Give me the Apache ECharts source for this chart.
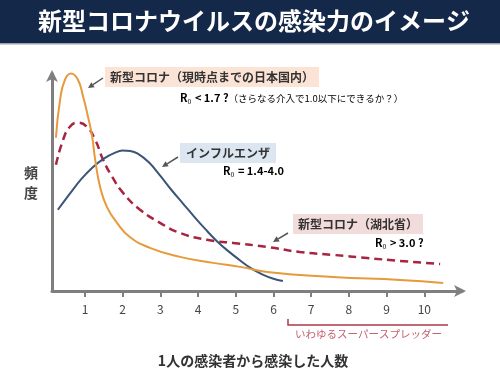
<!DOCTYPE html>
<html>
<head>
<meta charset="utf-8">
<script src="https://cdn.jsdelivr.net/npm/echarts@6/dist/echarts.min.js"></script>
<style>
  html, body { margin: 0; padding: 0; background: #fff; }
  #main { width: 500px; height: 378px; }
</style>
</head>
<body>
<div id="main"></div>
<script>
// 1人の感染者から感染した人数 (x) と 頻度 (y)
var xTicks = [1, 2, 3, 4, 5, 6, 7, 8, 9, 10]

var coronaJapan = [
  [0.23, 69.2], [0.34, 86.4], [0.47, 95.5], [0.63, 98.2], [0.81, 95.5],
  [0.95, 87.8], [1.08, 78.7], [1.19, 69.7], [1.27, 59.3], [1.40, 47.1],
  [1.58, 38.0], [1.85, 30.8], [2.19, 24.4], [2.72, 19.5], [3.52, 15.4],
  [4.40, 12.7], [5.11, 10.9], [5.83, 8.6], [7.58, 6.3], [9.36, 5.0], [10.5, 3.6]
]
var coronaHubei = [
  [0.23, 57.0], [0.42, 68.3], [0.60, 74.2], [0.81, 76.0], [1.05, 74.2],
  [1.27, 68.3], [1.48, 59.3], [1.72, 51.6], [2.01, 44.3], [2.46, 36.7],
  [2.99, 30.8], [3.52, 26.2], [4.24, 23.1], [4.93, 21.7], [5.83, 19.9],
  [6.70, 17.6], [7.58, 16.3], [8.48, 14.9], [9.36, 13.6], [10.42, 12.2]
]
var influenza = [
  [0.28, 36.7], [0.6, 44.0], [0.9, 50.5], [1.2, 55.8], [1.5, 59.8],
  [1.8, 62.5], [2.0, 63.4], [2.2, 63.2], [2.4, 62.0], [2.7, 58.0],
  [3.0, 52.0], [3.3, 45.5], [3.6, 39.5], [3.9, 33.5], [4.2, 27.8],
  [4.5, 22.5], [4.8, 18.0], [5.1, 14.0], [5.4, 10.3], [5.7, 7.5],
  [6.0, 5.5], [6.25, 4.5]
]

var font = '"Noto Sans CJK JP", "Noto Sans", sans-serif'

// 矢印（線＋三角）
function arrow(x1, y1, x2, y2) {
  var dx = x2 - x1, dy = y2 - y1
  var len = Math.sqrt(dx * dx + dy * dy)
  var ux = dx / len, uy = dy / len
  var bx = x2 - ux * 6, by = y2 - uy * 6
  return {
    type: 'group',
    children: [
      { type: 'line', shape: { x1: x1, y1: y1, x2: bx, y2: by }, style: { stroke: '#555', lineWidth: 1.5 } },
      { type: 'polygon', shape: { points: [[x2, y2], [bx - uy * 3, by + ux * 3], [bx + uy * 3, by - ux * 3]] }, style: { fill: '#555' } }
    ]
  }
}

function r0(x, y, rest, extra) {
  var rich = {
    r: { fontSize: 11, fontWeight: 'bold', color: '#444', fontFamily: font },
    s0: { fontSize: 7, color: '#444', fontFamily: font, padding: [6, 1, 0, 0] },
    b: { fontSize: 11, fontWeight: 'bold', color: '#444', fontFamily: font },
    g: { fontSize: 9.5, color: '#777', fontFamily: font }
  }
  var t = '{r|R}{s0|0}{b|' + rest + '}'
  if (extra) t += '{g|' + extra + '}'
  return { type: 'text', x: x, y: y, style: { text: t, rich: rich, verticalAlign: 'middle' } }
}

var chart = echarts.init(document.getElementById('main'))

chart.setOption({
  animation: false,
  backgroundColor: '#fff',
  grid: { left: 52, right: 38, top: 74, bottom: 87 },
  xAxis: {
    type: 'value',
    min: 0.125,
    max: 11,
    splitLine: { show: false },
    axisLine: {
      lineStyle: { color: '#7f7f7f', width: 3 },
      symbol: ['none', 'arrow'],
      symbolSize: [9, 12],
      symbolOffset: [0, 4]
    },
    axisTick: { customValues: xTicks, length: 6, lineStyle: { color: '#7f7f7f', width: 2 } },
    axisLabel: { customValues: xTicks, margin: 12, color: '#444', fontSize: 12, fontFamily: font }
  },
  yAxis: {
    type: 'value',
    min: 0,
    max: 98,
    splitLine: { show: false },
    axisTick: { show: false },
    axisLabel: { show: false },
    axisLine: {
      show: true,
      lineStyle: { color: '#7f7f7f', width: 3 },
      symbol: ['none', 'arrow'],
      symbolSize: [9, 12],
      symbolOffset: [0, 4]
    }
  },
  series: [
    {
      name: '新型コロナ（湖北省）',
      type: 'line',
      data: coronaHubei,
      smooth: true,
      showSymbol: false,
      clip: false,
      lineStyle: { color: '#a8243f', width: 2.5, type: [8, 5] }
    },
    {
      name: 'インフルエンザ',
      type: 'line',
      data: influenza,
      smooth: 0.4,
      showSymbol: false,
      clip: false,
      lineStyle: { color: '#3b5577', width: 2 }
    },
    {
      name: '新型コロナ（現時点までの日本国内）',
      type: 'line',
      data: coronaJapan,
      smooth: true,
      showSymbol: false,
      clip: false,
      lineStyle: { color: '#e69a3c', width: 2 }
    }
  ],
  graphic: [
    { type: 'rect', shape: { x: 0, y: 0, width: 500, height: 43 }, style: { fill: '#14284a' } },
    { type: 'rect', shape: { x: 0, y: 43, width: 500, height: 1.5 }, style: { fill: '#9aa3b0' } },
    {
      type: 'text', x: 254, y: 21,
      style: { text: '新型コロナウイルスの感染力のイメージ', fill: '#fff', font: 'bold 24px ' + font, align: 'center', verticalAlign: 'middle' }
    },
    {
      type: 'text', x: 31, y: 183,
      style: { text: '頻\n度', fill: '#444', font: 'bold 14px ' + font, lineHeight: 20, align: 'center', verticalAlign: 'middle' }
    },
    {
      type: 'text', x: 253, y: 361,
      style: { text: '1人の感染者から感染した人数', fill: '#333', font: 'bold 14px ' + font, align: 'center', verticalAlign: 'middle' }
    },

    {
      type: 'text', x: 105, y: 77,
      style: { text: '新型コロナ（現時点までの日本国内）', fill: '#333', font: 'bold 12px ' + font, verticalAlign: 'middle', backgroundColor: '#fbe4d5', padding: [4, 5] }
    },
    arrow(103, 78, 88, 88),
    r0(180, 98, ' < 1.7 ?', '（さらなる介入で1.0以下にできるか？）'),

    {
      type: 'text', x: 180, y: 153,
      style: { text: 'インフルエンザ', fill: '#333', font: 'bold 12px ' + font, verticalAlign: 'middle', backgroundColor: '#dce6f1', padding: [4, 6] }
    },
    arrow(178, 157, 162, 167),
    r0(223, 171, ' = 1.4-4.0'),

    {
      type: 'text', x: 293, y: 224,
      style: { text: '新型コロナ（湖北省）', fill: '#333', font: 'bold 12px ' + font, verticalAlign: 'middle', backgroundColor: '#f2dcdb', padding: [4, 5] }
    },
    arrow(288, 233, 273, 242),
    r0(375, 243, ' > 3.0 ?'),

    {
      type: 'polyline', shape: { points: [[288, 319], [288, 325], [448, 325]] },
      style: { stroke: '#b0394a', lineWidth: 1.5, fill: null }
    },
    {
      type: 'text', x: 295, y: 334,
      style: { text: 'いわゆるスーパースプレッダー', fill: '#c4606f', font: '10.5px ' + font, verticalAlign: 'middle' }
    }
  ]
})
</script>
</body>
</html>
